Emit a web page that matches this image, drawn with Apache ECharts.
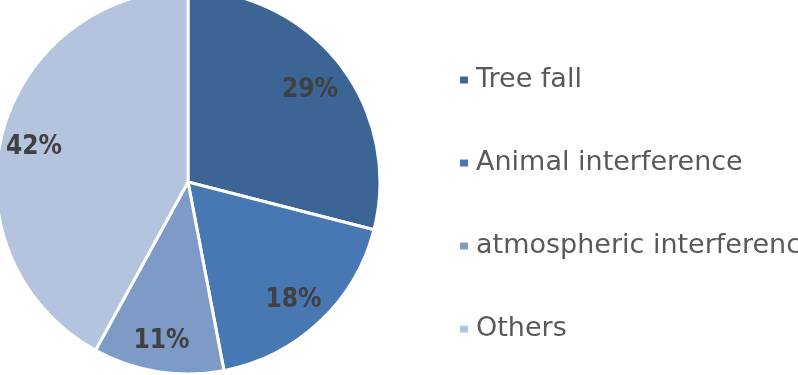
<!DOCTYPE html>
<html>
<head>
<meta charset="utf-8">
<script src="https://cdn.jsdelivr.net/npm/echarts@6/dist/echarts.min.js"></script>
<style>html,body{margin:0;padding:0;background:#fff}#c{width:798px;height:375px}</style>
</head>
<body>
<div id="c"></div>
<script>
const categories = ["Tree fall", "Animal interference", "atmospheric interference", "Others"];
const values = [29, 18, 11, 42];
const colors = ["#3C6596", "#4878B3", "#7E9BC8", "#B4C4DE"];

const chart = echarts.init(document.getElementById('c'), null, {renderer: 'canvas'});
const mainData = categories.map((n, i) => ({name: n, value: values[i], itemStyle: {color: colors[i]}}));
const labelData = categories.map((n, i) => ({name: n, value: values[i]}));
chart.setOption({
  animation: false,
  legend: {
    orient: 'vertical',
    left: 453,
    top: 60,
    itemWidth: 10,
    itemHeight: 9,
    itemGap: 53,
    icon: 'rect',
    data: categories.map((n, i) => ({name: n, itemStyle: {color: colors[i]}})),
    textStyle: {fontFamily: 'DejaVu Sans', fontSize: 27, color: '#595959', lineHeight: 30, padding: [0, 0, 0, 2]}
  },
  series: [
    {
      type: 'pie',
      center: [188, 182],
      radius: [0, 192],
      startAngle: 90,
      clockwise: true,
      silent: true,
      label: {show: false},
      labelLine: {show: false},
      itemStyle: {borderColor: '#fff', borderWidth: 3},
      data: mainData
    },
    {
      type: 'pie',
      center: [188, 182],
      radius: [116, 192],
      startAngle: 90,
      clockwise: true,
      silent: true,
      legendHoverLink: false,
      itemStyle: {color: 'rgba(0,0,0,0)'},
      label: {show: true, position: 'inside', offset: [-2, 4], formatter: '{d}%', fontFamily: '"DejaVu Sans Condensed", "Liberation Sans Narrow", "DejaVu Sans"', fontWeight: 'bold', fontSize: 26, color: '#404040'},
      labelLine: {show: false},
      data: labelData
    }
  ]
});
</script>
</body>
</html>
